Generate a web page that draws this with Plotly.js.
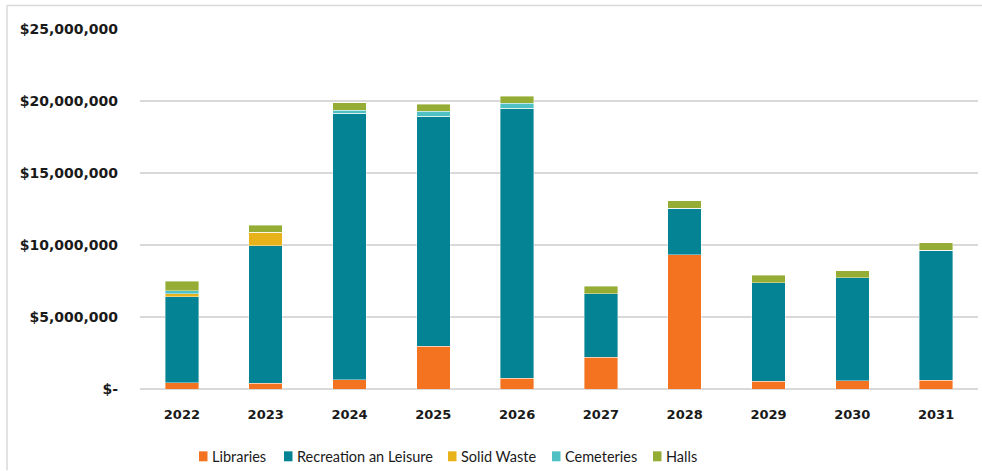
<!DOCTYPE html>
<html>
<head>
<meta charset="utf-8">
<script src="https://cdn.plot.ly/plotly-3.0.1.min.js"></script>
<style>
html,body{margin:0;padding:0;background:#fff;}
#chart{width:982px;height:471px;}
</style>
</head>
<body>
<div id="chart"></div>
<script>
var years = ['2022','2023','2024','2025','2026','2027','2028','2029','2030','2031'];
var libraries = [430000, 400000, 660000, 2960000, 750000, 2200000, 9310000, 540000, 570000, 610000];
var recreation = [5970000, 9550000, 18500000, 15990000, 18750000, 4430000, 3250000, 6850000, 7170000, 9020000];
var solidWaste = [200000, 950000, 0, 0, 0, 0, 0, 0, 0, 0];
var cemeteries = [230000, 0, 200000, 340000, 350000, 0, 0, 0, 0, 0];
var halls = [650000, 480000, 520000, 490000, 480000, 510000, 530000, 510000, 480000, 510000];
var yTickVals = [0, 5000000, 10000000, 15000000, 20000000, 25000000];
var yTickText = ['$-', '$5,000,000', '$10,000,000', '$15,000,000', '$20,000,000', '$25,000,000'];
var seriesNames = ['Libraries', 'Recreation an Leisure', 'Solid Waste', 'Cemeteries', 'Halls'];
var seriesColors = ['#F37321', '#038394', '#E8B21A', '#4FC1C4', '#95AD35'];

var seriesData = [libraries, recreation, solidWaste, cemeteries, halls];
var traces = seriesData.map(function(vals, i){
  return {
    type: 'bar',
    name: seriesNames[i],
    x: years,
    y: vals,
    marker: {color: seriesColors[i], line: {color: 'rgba(255,255,255,0.5)', width: 0.8}},
    hoverinfo: 'x+y+name',
    showlegend: false
  };
});

var plotLeft = 140, plotRight = 978, plotTop = 28.5, plotBottom = 389.5;
var pw = plotRight - plotLeft, ph = plotBottom - plotTop;
function px(x){ return (x - plotLeft) / pw; }
function py(y){ return (plotBottom - y) / ph; }

// custom legend (square swatch + label), placed as in the reference
var legendSwatchX = [199, 284, 448, 552, 653];
var legendY = 457;
var shapes = [
  {type: 'line', xref: 'paper', yref: 'paper',
   x0: px(7), x1: px(7), y0: py(471), y1: py(5),
   line: {color: '#d9d9d9', width: 1.5}},
  {type: 'line', xref: 'paper', yref: 'paper',
   x0: px(7), x1: px(982), y0: py(5), y1: py(5),
   line: {color: '#d9d9d9', width: 1.5}}
];
var annotations = [];
seriesNames.forEach(function(n, i){
  var sx = legendSwatchX[i];
  shapes.push({type: 'rect', xref: 'paper', yref: 'paper',
    x0: px(sx), x1: px(sx + 8.5), y0: py(legendY - 5), y1: py(legendY + 5),
    fillcolor: seriesColors[i], line: {width: 0}});
  annotations.push({xref: 'paper', yref: 'paper', x: px(sx + 10.5), y: py(legendY),
    xanchor: 'left', yanchor: 'middle', showarrow: false, text: n,
    font: {family: 'Lato, sans-serif', size: 14.5, color: '#1a1a1a'}});
});

var layout = {
  width: 982,
  height: 471,
  margin: {l: plotLeft, r: 982 - plotRight, t: plotTop, b: 471 - plotBottom, pad: 0},
  barmode: 'stack',
  bargap: 0.6,
  paper_bgcolor: '#ffffff',
  plot_bgcolor: '#ffffff',
  font: {family: 'Lato, sans-serif', color: '#1a1a1a'},
  showlegend: false,
  xaxis: {
    type: 'category',
    showgrid: false,
    zeroline: false,
    showline: false,
    ticks: '',
    ticklabelstandoff: 16,
    tickfont: {family: '"DejaVu Sans", sans-serif', size: 13, weight: 700, color: '#1a1a1a'},
    fixedrange: true
  },
  yaxis: {
    range: [0, 25000000],
    tickvals: yTickVals,
    ticktext: yTickText,
    showgrid: true,
    gridcolor: '#d9d9d9',
    gridwidth: 1.5,
    zeroline: true,
    zerolinecolor: '#d9d9d9',
    zerolinewidth: 1.5,
    showline: false,
    ticks: '',
    ticklabelstandoff: 21,
    tickfont: {family: '"DejaVu Sans", sans-serif', size: 14, weight: 700, color: '#1a1a1a'},
    fixedrange: true
  },
  shapes: shapes,
  annotations: annotations
};

Plotly.newPlot('chart', traces, layout, {displayModeBar: false, staticPlot: true});
</script>
</body>
</html>
